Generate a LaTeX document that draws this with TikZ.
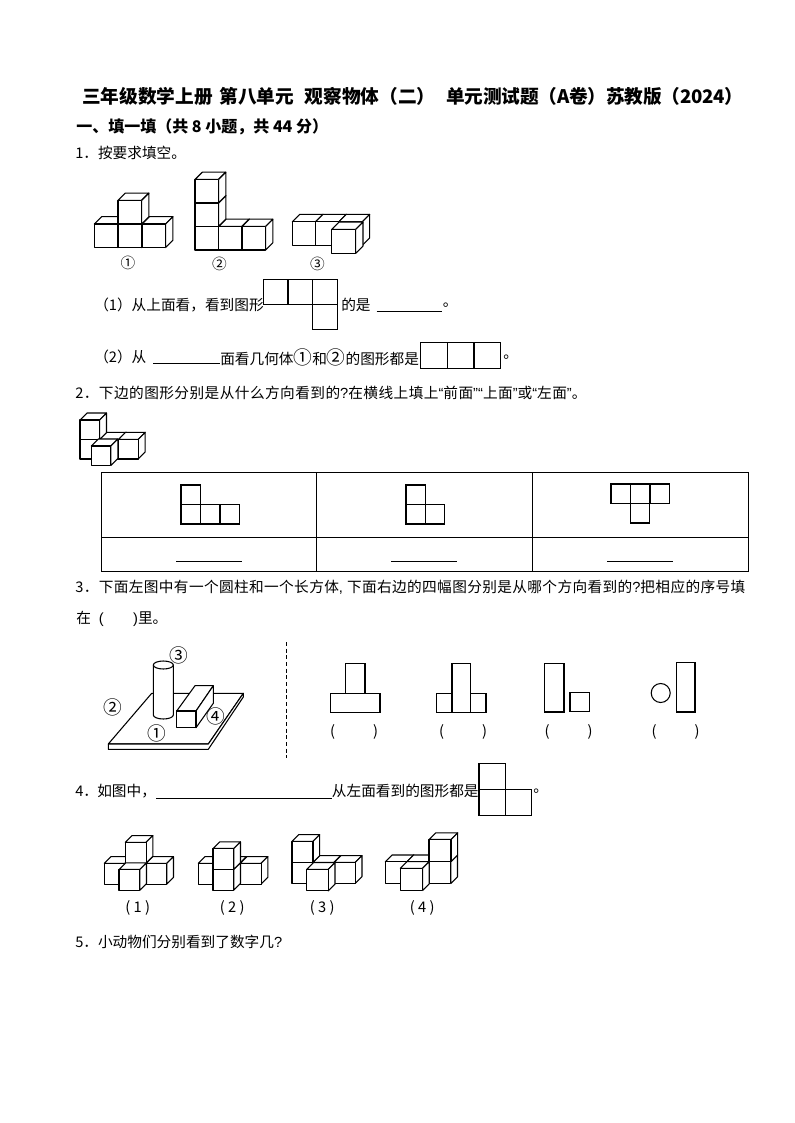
\documentclass[tikz,border=0pt]{standalone}
\usepackage{fontspec}
\setmainfont{Noto Sans CJK SC}
\newfontfamily\latf{Liberation Sans}
\usepackage{tikz}
\tikzset{
  txt/.style={anchor=west,inner sep=0pt,font=\fontsize{11}{13}\selectfont},
  head/.style={anchor=west,inner sep=0pt,font=\fontsize{12}{14}\selectfont\bfseries},
  lbl/.style={inner sep=0pt,font=\fontsize{11}{13}\selectfont},
  num/.style={inner sep=0pt,font=\fontsize{14}{14}\selectfont},
  cubeline/.style={draw=black,fill=white,line width=.8pt,line join=round},
  cell/.style={draw=black,fill=white,line width=.8pt},
  blank/.style={draw=black,line width=.75pt},
}
\newcommand{\cube}[4]{
  \draw[cubeline] (#1,#2) -- ++(#4,-#4) -- ++(#3,0) -- ++(-#4,#4) -- cycle;
  \draw[cubeline] (#1+#3,#2) -- ++(#4,-#4) -- ++(0,#3) -- ++(-#4,#4) -- cycle;
  \draw[cubeline] (#1,#2) rectangle ++(#3,#3);
}
\newcommand{\bigno}[1]{{\fontsize{14}{13}\selectfont #1}}
\newcommand{\nq}[1]{{\latf #1}}
\begin{document}
\begin{tikzpicture}[x=.75pt,y=-.75pt]
  \useasboundingbox (0,0) rectangle (794,1123);
  \node[anchor=west,inner sep=0pt,font=\fontsize{14}{16}\selectfont\bfseries] (title) at (82,96)
    {三年级数学上册\hspace{5pt}第八单元\hspace{8pt}观察物体（二）\hspace{8pt}{\addfontfeature{LetterSpace=-1}单元测试题（A卷）苏教版（2024）}};
  \node[head] (part) at (76,127) {一、填一填（共 8 小题，共 44 分）};
  \node[txt] (qa) at (75,153) {1．按要求填空。};

  % question 1 solids
  \foreach \x in {94.3,118,142} \cube{\x}{224}{23.6}{7.3};
  \cube{118}{200.4}{23.6}{7.3}
  \foreach \x in {195,218.5,242} \cube{\x}{226.5}{23.5}{7.3};
  \cube{195}{203}{23.5}{7.3}
  \cube{195}{179.5}{23.5}{7.3}
  \foreach \x in {292.3,315.7,339} \cube{\x}{221.7}{23.4}{7.3};
  \cube{331.7}{229.3}{24}{7.3}
  \node[lbl] (na) at (128,263) {①};
  \node[lbl] (nb) at (219.5,264) {②};
  \node[lbl] (nc) at (317.5,264) {③};

  \node[txt] (qaa) at (94,305) {（1）从上面看，看到图形};
  \foreach \x/\y in {263.3/279.3,288/279.3,312.7/279.3,312.7/304.3}
    \draw[cell] (\x,\y) rectangle ++(24.8,25);
  \node[txt] (qab) at (341,305) {的是};
  \draw[blank] (376.7,311.7) -- (442.3,311.7);
  \node[txt] (qac) at (442.5,305) {。};

  \node[txt] (qba) at (94,357) {（2）从};
  \draw[blank] (153.3,363.7) -- (219.7,363.7);
  \node[txt] (qbb) at (220,357) {面看几何体\bigno{①}和\bigno{②}的图形都是};
  \foreach \x in {420.7,447.3,474}
    \draw[cell] (\x,342.3) rectangle ++(26.6,26.4);
  \node[txt] (qbc) at (503,357) {。};

  \node[txt] (qc) at (75,393) {\addfontfeature{LetterSpace=3}2．下边的图形分别是从什么方向看到的\nq{?}在横线上填上\nq{“}前面\nq{”“}上面\nq{”}或\nq{“}左面\nq{”}。};

  % question 2 solid
  \foreach \x in {80,99.5,118.5} \cube{\x}{439.3}{19.7}{7};
  \cube{80}{420}{19.5}{7}
  \cube{91.3}{446}{19.5}{7}

  % table
  \draw[blank] (101,472) rectangle (748,571);
  \draw[blank] (101,537) -- (748,537);
  \foreach \x in {316.5,532} \draw[blank] (\x,472) -- (\x,571);
  \foreach \x/\y in {181/485,181/504.5,200.5/504.5,220/504.5,
                     406/485,406/504.5,425.5/504.5,
                     611/484,630.5/484,650/484,630.5/503.5}
    \draw[cell] (\x,\y) rectangle ++(19.3,19.5);
  \foreach \x in {176,391,607} \draw[blank] (\x,561.5) -- ++(66,0);

  \node[txt] (qd) at (75,587) {\addfontfeature{LetterSpace=2.5}3．下面左图中有一个圆柱和一个长方体\nq{,}\hspace{3pt}下面右边的四幅图分别是从哪个方向看到的\nq{?}把相应的序号填};
  \node[txt] (qe) at (76,619) {在\hspace{6pt}\nq{(}\hspace{22pt}\nq{)}里。};

  % board, cylinder and box
  \draw[cubeline] (108.3,744) -- (208.3,744) -- (243.3,693.3) -- (151.7,693.3) -- cycle;
  \draw[cubeline] (108.3,744) -- (108.3,749.3) -- (208.3,749.3) -- (243.3,697) -- (243.3,693.3) -- (208.3,744) -- cycle;
  \draw[cubeline] (153.3,665) -- (153.3,715) arc[start angle=180,end angle=0,x radius=10,y radius=4] -- (173.3,665);
  \draw[cubeline] (163.3,665) ellipse[x radius=10,y radius=4];
  \draw[cubeline] (176.7,711) -- (195,685.7) -- (213.3,685.7) -- (196,711) -- cycle;
  \draw[cubeline] (196,711) -- (213.3,685.7) -- (213.3,703.3) -- (196,727.7) -- cycle;
  \draw[cubeline] (176.7,711) rectangle (196,727.7);
  \node[num] (la) at (156.7,733.7) {①};
  \node[num] (lb) at (113.3,707.3) {②};
  \node[num] (lc) at (179,655) {③};
  \node[num] (ld) at (215.7,716.7) {④};
  \draw[line width=1.1pt,densely dashed] (286.7,642) -- (286.7,758);

  % four views
  \draw[cell] (345.7,663.3) rectangle (365,693.3);
  \draw[cell] (330.7,693.3) rectangle (380,712.3);
  \draw[cell] (436.7,693.3) rectangle (486,712.3);
  \draw[cell] (452,663.3) rectangle (470.7,712.3);
  \draw[cell] (544.7,663.3) rectangle (564,712);
  \draw[cell] (570,692.3) rectangle (589.3,711.3);
  \draw[cell] (660.7,693) circle[radius=9.5];
  \draw[cell] (676.3,662.7) rectangle (695,712);
  \foreach \x/\n in {354/pa,463/pb,568.5/pc,675.5/pd}
    \node[lbl] (\n) at (\x,732) {\makebox[36pt]{(\hfill)}};

  \node[txt] (qf) at (97,791) {如图中，};
  \node[txt] (qfn) at (75,791) {4．};
  \draw[blank] (156,798.3) -- (331.7,798.3);
  \node[txt] (qg) at (331.7,791) {从左面看到的图形都是};
  \foreach \x/\y in {479/763.3,479/789.7,505.3/789.7}
    \draw[cell] (\x,\y) rectangle ++(26.3,26.2);
  \node[txt] (qh) at (533,791) {。};

  % question 4 solids
  \foreach \x in {104.3,125,146} \cube{\x}{863.3}{20.8}{6.7};
  \cube{125.3}{842.3}{20.8}{6.7}
  \cube{119}{869.5}{20.8}{6.7}

  \foreach \x in {198.3,219,240.3} \cube{\x}{863.3}{20.8}{6.7};
  \cube{213}{869.3}{20.8}{6.7}
  \cube{213}{848.5}{20.8}{6.7}

  \foreach \x in {292,313,334.3} \cube{\x}{862.3}{21}{6.7};
  \cube{292}{841.3}{21}{6.7}
  \cube{306.7}{869.3}{21.6}{6.7}

  \foreach \x in {385.3,407,429} \cube{\x}{861.7}{21.8}{6.7};
  \cube{429}{839.5}{22}{6.7}
  \cube{400.3}{868.3}{22.2}{6.7}

  \foreach \x/\t/\n in {137.7/1/ma,232.3/2/mb,322.3/3/mc,422.3/4/md}
    \node[lbl] (\n) at (\x,907.7) {( \t\ )};

  \node[txt] (qi) at (75,942) {5．小动物们分别看到了数字几\nq{?}};
\end{tikzpicture}
\end{document}
